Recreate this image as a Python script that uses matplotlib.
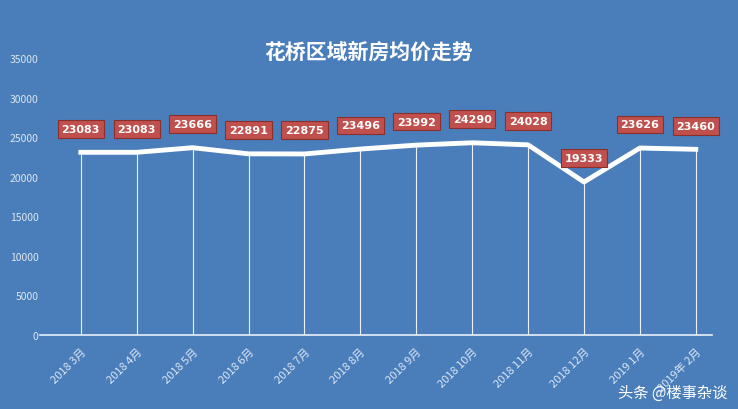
import matplotlib
matplotlib.use("Agg")
import matplotlib.pyplot as plt

plt.rcParams['font.family'] = ['Noto Sans CJK SC', 'DejaVu Sans']

months = ["2018 3月", "2018 4月", "2018 5月", "2018 6月", "2018 7月", "2018 8月",
          "2018 9月", "2018 10月", "2018 11月", "2018 12月", "2019 1月", "2019年 2月"]
prices = [23083, 23083, 23666, 22891, 22875, 23496, 23992, 24290, 24028, 19333, 23626, 23460]
yticks = [0, 5000, 10000, 15000, 20000, 25000, 30000, 35000]

bg = '#4a7ebb'
W, H = 738, 410
fig = plt.figure(figsize=(W/100, H/100), dpi=100, facecolor=bg)
ax = fig.add_axes([40/W, 1-336/H, (712-40)/W, (336-59)/H], facecolor=bg)

x = list(range(len(months)))
ax.vlines(x, 0, prices, color='white', lw=0.8, alpha=0.9, zorder=2)
ax.plot(x, prices, color='white', lw=3.5, zorder=3, solid_joinstyle='round')
for xi, v in zip(x, prices):
    ax.annotate(str(v), (xi, v), xytext=(0, 17), textcoords='offset points',
                ha='center', va='center', color='white', fontsize=8, fontweight='bold',
                family='DejaVu Sans',
                bbox=dict(boxstyle='square,pad=0.35', fc='#c0504d', ec='#8b2f2c', lw=0.8),
                zorder=5)

ax.set_xlim(-0.73, 11.29)
ax.set_ylim(0, 35000)
ax.set_yticks(yticks)
ax.set_yticklabels([str(t) for t in yticks], color='#dce6f2', fontsize=7.5)
ax.set_xticks(x)
ax.set_xticklabels(months, rotation=45, ha='right', rotation_mode='anchor',
                   color='#dce6f2', fontsize=8)
ax.tick_params(axis='x', length=0, pad=8)
ax.tick_params(axis='y', length=0, pad=1)
for s in ['top', 'right', 'left']:
    ax.spines[s].set_visible(False)
ax.spines['bottom'].set_color('#e8f0fa')
ax.spines['bottom'].set_linewidth(1.2)

fig.text(0.5, 1-52/H, '花桥区域新房均价走势', ha='center', va='center',
         color='white', fontsize=15, fontweight='bold')
fig.text(0.985, 0.04, '头条 @楼事杂谈', ha='right', va='center', color='white', fontsize=11)

fig.savefig('out.png', dpi=100, facecolor=bg)
